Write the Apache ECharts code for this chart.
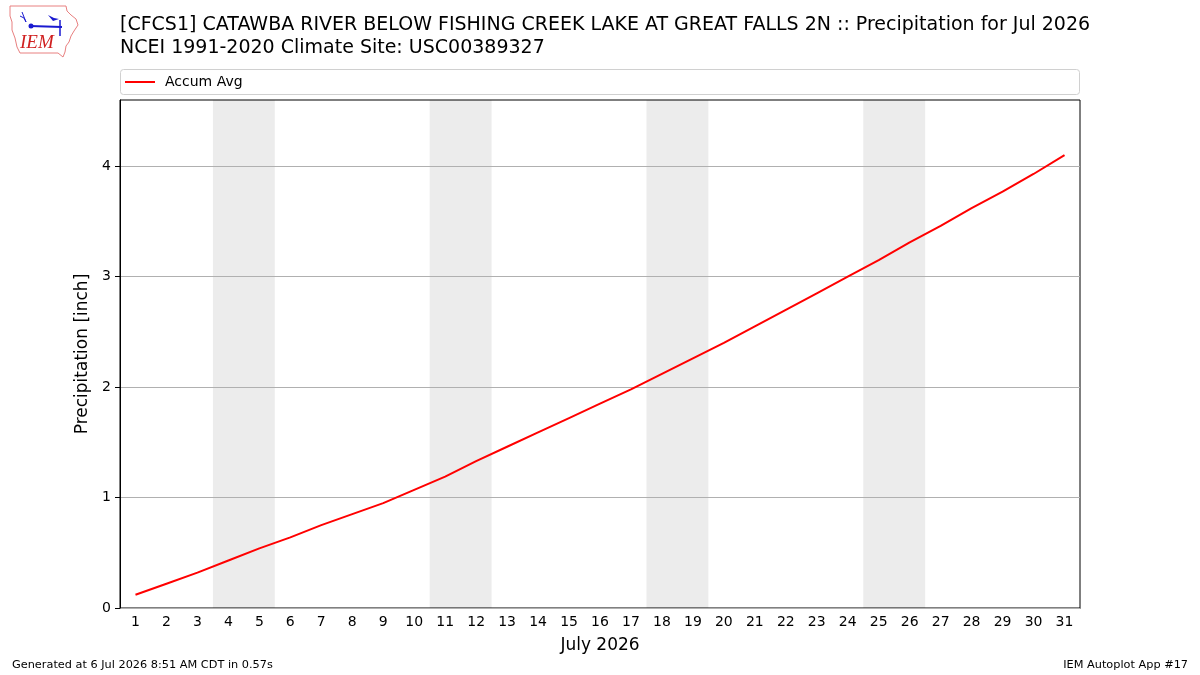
<!DOCTYPE html>
<html>
<head>
<meta charset="utf-8">
<title>Precipitation for Jul 2026</title>
<script src="https://cdn.jsdelivr.net/npm/echarts@6/dist/echarts.min.js"></script>
<style>
  html, body { margin: 0; padding: 0; background: #fff; }
  #chart { width: 1200px; height: 675px; }
</style>
</head>
<body>
<div id="chart"></div>
<script>
// days of July 2026
const days = ['1', '2', '3', '4', '5', '6', '7', '8', '9', '10', '11', '12', '13', '14', '15', '16',
  '17', '18', '19', '20', '21', '22', '23', '24', '25', '26', '27', '28', '29', '30', '31']
// accumulated average precipitation [inch]
const accumAvg = [0.12, 0.22, 0.32, 0.43, 0.54, 0.64, 0.75, 0.85, 0.95, 1.07, 1.19, 1.33, 1.46, 1.59,
  1.72, 1.85, 1.98, 2.12, 2.26, 2.40, 2.55, 2.70, 2.85, 3.00, 3.15, 3.31, 3.46, 3.62, 3.77, 3.93, 4.10]
// weekends (first day, last day) shaded grey
const weekends = [['4', '5'], ['11', '12'], ['18', '19'], ['25', '26']]
const yTicks = [0, 1, 2, 3, 4]

const font = 'DejaVu Sans'
const chart = echarts.init(document.getElementById('chart'), null, { renderer: 'canvas' })

// grey band covering whole category slots from first to last day
// (translucent so the grid lines stay visible through it)
function renderWeekend(params, api) {
  const start = api.coord([api.value(0), 0])
  const end = api.coord([api.value(1), 0])
  const half = api.size([1, 0])[0] / 2
  const cs = params.coordSys
  return {
    type: 'rect',
    shape: { x: start[0] - half, y: cs.y, width: end[0] - start[0] + 2 * half, height: cs.height },
    style: { fill: 'rgba(0, 0, 0, 0.075)' },
    silent: true
  }
}

chart.setOption({
  animation: false,
  backgroundColor: '#fff',
  textStyle: { fontFamily: font, color: '#000' },
  title: {
    text: '[CFCS1] CATAWBA RIVER BELOW FISHING CREEK LAKE AT GREAT FALLS 2N :: Precipitation for Jul 2026\nNCEI 1991-2020 Climate Site: USC00389327',
    left: 115,
    top: 9,
    textStyle: { fontFamily: font, fontSize: 19, fontWeight: 'normal', color: '#000', lineHeight: 23 }
  },
  legend: {
    left: 120,
    top: 70,
    icon: 'rect',
    itemWidth: 30,
    itemHeight: 2,
    itemGap: 10,
    textStyle: { fontFamily: font, fontSize: 14, color: '#000', padding: [0, 0, 0, 5] },
    data: ['Accum Avg']
  },
  grid: {
    left: 120,
    right: 120,
    top: 100,
    bottom: 67,
    show: true,
    borderColor: '#000',
    borderWidth: 1,
    backgroundColor: 'transparent'
  },
  xAxis: {
    type: 'category',
    data: days,
    boundaryGap: true,
    name: 'July 2026',
    nameLocation: 'middle',
    nameGap: 29,
    nameTextStyle: { fontFamily: font, fontSize: 17, color: '#000' },
    axisLine: { lineStyle: { color: '#000', width: 1 } },
    axisTick: { alignWithLabel: true, interval: 0, length: 5, lineStyle: { color: '#000' } },
    axisLabel: { interval: 0, fontFamily: font, fontSize: 14, color: '#000', margin: 7 },
    splitLine: { show: false }
  },
  yAxis: {
    type: 'value',
    min: 0,
    max: 4.6,
    interval: 1,
    z: 5,
    name: 'Precipitation [inch]',
    nameLocation: 'middle',
    nameGap: 25,
    nameTextStyle: { fontFamily: font, fontSize: 17, color: '#000' },
    axisLine: { show: true, lineStyle: { color: '#000', width: 1 } },
    axisTick: { show: true, length: 5, customValues: yTicks, lineStyle: { color: '#000' } },
    axisLabel: { fontFamily: font, fontSize: 14, color: '#000', margin: 9, customValues: yTicks },
    splitLine: { show: true, lineStyle: { color: '#b0b0b0', width: 1 } }
  },
  series: [
    {
      name: 'weekend',
      type: 'custom',
      renderItem: renderWeekend,
      data: weekends,
      encode: { x: [0, 1] },
      silent: true,
      z: 1
    },
    {
      name: 'Accum Avg',
      type: 'line',
      data: accumAvg,
      symbol: 'none',
      lineStyle: { color: '#ff0000', width: 2 },
      itemStyle: { color: '#ff0000' },
      z: 10
    }
  ],
  graphic: [
    // legend frame
    {
      type: 'rect',
      shape: { x: 120.5, y: 69.5, width: 959, height: 25, r: 3 },
      style: { fill: '#fff', stroke: '#d0d0d0', lineWidth: 1 },
      z: -1
    },
    // IEM logo, rough
    {
      type: 'polyline',
      shape: {
        points: [[10, 6], [66, 6], [67, 11], [71, 15], [76, 19], [78, 25], [74, 31], [71, 36],
          [69, 42], [66, 46], [65, 52], [63, 57], [58, 53], [20, 53], [17, 47], [15, 38], [12, 30],
          [12, 22], [10, 16], [10, 6]]
      },
      style: { stroke: '#e88080', lineWidth: 1, fill: 'none' }
    },
    {
      type: 'line',
      shape: { x1: 30, y1: 26, x2: 62, y2: 27 },
      style: { stroke: '#1a1ad0', lineWidth: 2 }
    },
    {
      type: 'circle',
      shape: { cx: 31, cy: 26, r: 2.5 },
      style: { fill: '#1a1ad0' }
    },
    {
      type: 'line',
      shape: { x1: 60, y1: 20, x2: 60, y2: 36 },
      style: { stroke: '#1a1ad0', lineWidth: 1.5 }
    },
    {
      type: 'polygon',
      shape: { points: [[48, 15], [54, 18], [59, 19], [53, 21]] },
      style: { fill: '#1a1ad0' }
    },
    {
      type: 'polyline',
      shape: { points: [[22, 12], [24, 17], [26, 22], [24, 18], [20, 16]] },
      style: { stroke: '#1a1ad0', lineWidth: 1, fill: 'none' }
    },
    {
      type: 'text',
      left: 20,
      top: 33,
      style: { text: 'IEM', font: 'italic 19px "Liberation Serif"', fill: '#d02020' }
    },
    // footer
    {
      type: 'text',
      left: 12,
      top: 660,
      style: { text: 'Generated at 6 Jul 2026 8:51 AM CDT in 0.57s', font: '11.3px "DejaVu Sans"', fill: '#000' }
    },
    {
      type: 'text',
      right: 12,
      top: 660,
      style: { text: 'IEM Autoplot App #17', font: '11.3px "DejaVu Sans"', fill: '#000' }
    }
  ]
})
</script>
</body>
</html>
